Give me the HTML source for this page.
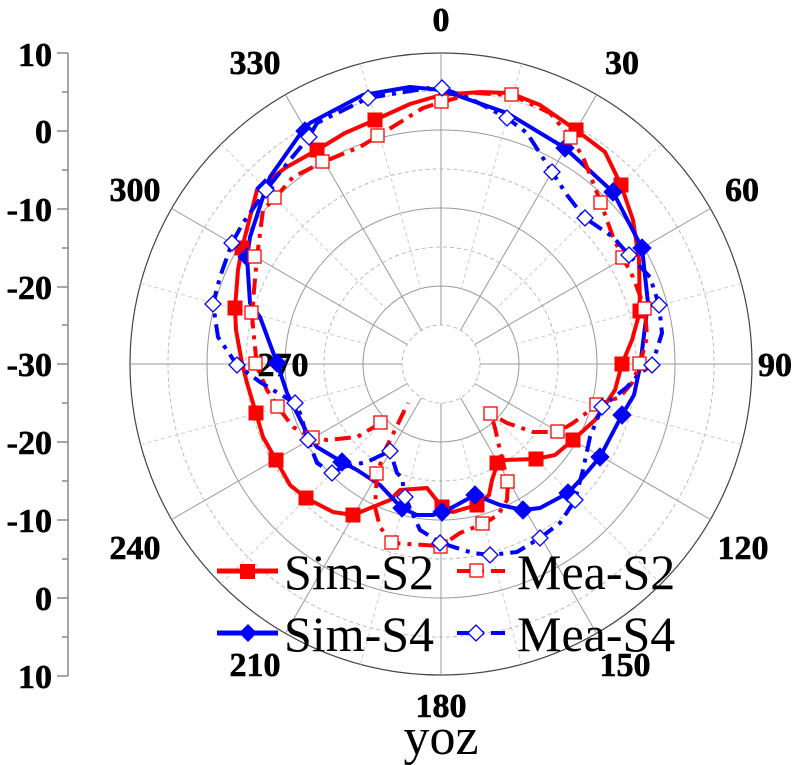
<!DOCTYPE html>
<html><head><meta charset="utf-8"><style>
html,body{margin:0;padding:0;background:#fff;}
svg{display:block;}
svg text{font-family:"Liberation Serif","Times New Roman",serif;}
text.n{font-size:34px;font-weight:bold;fill:#000;stroke:#000;stroke-width:0.6px;}
text.g{font-size:50px;fill:#000;}
</style></head><body>
<svg width="800" height="765" viewBox="0 0 800 765" xmlns="http://www.w3.org/2000/svg">
<g fill="none">
<g stroke="#999" stroke-width="1">
<circle cx="441" cy="364" r="78"/><circle cx="441" cy="364" r="156"/><circle cx="441" cy="364" r="234"/>
</g>
<g stroke="#bbb" stroke-width="1" stroke-dasharray="4,3">
<circle cx="441" cy="364" r="39"/><circle cx="441" cy="364" r="117"/><circle cx="441" cy="364" r="195"/><circle cx="441" cy="364" r="273"/>
</g>
<circle cx="441" cy="364" r="311" stroke="#444" stroke-width="1.2"/>
<g stroke="#999" stroke-width="1">
<line x1="441" y1="53" x2="441" y2="325"/><line x1="441" y1="403" x2="441" y2="675"/>
<line x1="130" y1="364" x2="402" y2="364"/><line x1="480" y1="364" x2="752" y2="364"/>
<line x1="596.5" y1="94.7" x2="460.5" y2="330.2"/><line x1="285.5" y1="633.3" x2="421.5" y2="397.8"/>
<line x1="710.3" y1="208.5" x2="474.8" y2="344.5"/><line x1="171.7" y1="519.5" x2="407.2" y2="383.5"/>
<line x1="710.3" y1="519.5" x2="474.8" y2="383.5"/><line x1="171.7" y1="208.5" x2="407.2" y2="344.5"/>
<line x1="596.5" y1="633.3" x2="460.5" y2="397.8"/><line x1="285.5" y1="94.7" x2="421.5" y2="330.2"/>
</g>
<g stroke="#ccc" stroke-width="1" stroke-dasharray="4,3">
<line x1="521.5" y1="63.6" x2="461.2" y2="288.7"/><line x1="360.5" y1="664.4" x2="420.8" y2="439.3"/>
<line x1="660.9" y1="144.1" x2="496.2" y2="308.8"/><line x1="221.1" y1="583.9" x2="385.8" y2="419.2"/>
<line x1="741.4" y1="283.5" x2="516.3" y2="343.8"/><line x1="140.6" y1="444.5" x2="365.7" y2="384.2"/>
<line x1="741.4" y1="444.5" x2="516.3" y2="384.2"/><line x1="140.6" y1="283.5" x2="365.7" y2="343.8"/>
<line x1="660.9" y1="583.9" x2="496.2" y2="419.2"/><line x1="221.1" y1="144.1" x2="385.8" y2="308.8"/>
<line x1="521.5" y1="664.4" x2="461.2" y2="439.3"/><line x1="360.5" y1="63.6" x2="420.8" y2="288.7"/>
</g>
<g stroke="#888" stroke-width="1.5">
<line x1="68" y1="53" x2="68" y2="676"/>
<line x1="57" y1="53" x2="68" y2="53"/><line x1="57" y1="131" x2="68" y2="131"/><line x1="57" y1="209" x2="68" y2="209"/><line x1="57" y1="287" x2="68" y2="287"/><line x1="57" y1="364" x2="68" y2="364"/><line x1="57" y1="442" x2="68" y2="442"/><line x1="57" y1="520" x2="68" y2="520"/><line x1="57" y1="598" x2="68" y2="598"/><line x1="57" y1="676" x2="68" y2="676"/>
<line x1="62" y1="92" x2="68" y2="92"/><line x1="62" y1="170" x2="68" y2="170"/><line x1="62" y1="248" x2="68" y2="248"/><line x1="62" y1="325" x2="68" y2="325"/><line x1="62" y1="403" x2="68" y2="403"/><line x1="62" y1="481" x2="68" y2="481"/><line x1="62" y1="559" x2="68" y2="559"/><line x1="62" y1="637" x2="68" y2="637"/>
</g>
</g>
<g text-anchor="end">
<text class="n" x="52" y="66">10</text><text class="n" x="52" y="143">0</text><text class="n" x="52" y="221">-10</text><text class="n" x="52" y="299">-20</text><text class="n" x="52" y="376">-30</text><text class="n" x="52" y="454">-20</text><text class="n" x="52" y="532">-10</text><text class="n" x="52" y="610">0</text><text class="n" x="52" y="688">10</text>
</g>
<g text-anchor="middle">
<text class="n" x="441" y="31">0</text><text class="n" x="622" y="74">30</text><text class="n" x="742" y="201">60</text><text class="n" x="775" y="376">90</text><text class="n" x="743" y="559">120</text><text class="n" x="625" y="676">150</text><text class="n" x="441" y="717">180</text><text class="n" x="255" y="676">210</text><text class="n" x="135" y="559">240</text><text class="n" x="283" y="376">270</text><text class="n" x="135" y="201">300</text><text class="n" x="255" y="74">330</text>
</g>
<text class="g" style="font-size:52px" x="441" y="754" text-anchor="middle">yoz</text>

<path fill="none" stroke="#f00" stroke-width="4" stroke-linejoin="round" d="M441,95 L480,92 L510,93 L540,105 L576,130 L605,152 L621,185 L633,220 L639,260 L640,311 L632,340 L622,364 L615,390 L595,420 L573,440 L555,455 L536,459 L505,460 L497,465 L492,480 L489,495 L477,505 L453,512 L442,507 L427,488 L400,490 L390,500 L353,515 L333,512 L306,498 L290,485 L276,460 L263,437 L256,413 L247,383 L242,363 L236,330 L235,308 L238,270 L242,248 L257,190 L285,168 L317,150 L345,133 L375,120 L410,104 L441,95"/>
<path fill="none" stroke="#00f" stroke-width="4" stroke-linejoin="round" d="M441,90 L450,93 L507,113 L565,148 L613,192 L642,248 L648,303 L640,367 L634,395 L622,415 L600,457 L583,477 L568,493 L540,508 L523,510 L500,505 L475,495 L453,507 L442,512 L433,515 L417,515 L402,508 L397,503 L380,485 L357,470 L342,462 L317,447 L307,433 L297,413 L287,393 L277,363 L260,317 L250,303 L247,257 L250,237 L262,200 L270,177 L303,130 L310,123 L363,95 L410,87 L441,90"/>
<path fill="none" stroke="#f00" stroke-width="4" stroke-dasharray="16,7,4,7" stroke-linejoin="round" d="M442,102 L475,93 L512,95 L550,113 L571,138 L583,157 L601,203 L613,237 L623,258 L633,277 L645,309 L647,337 L640,364 L632,383 L620,397 L597,405 L573,423 L558,432 L533,432 L507,423 L491,414 L495,428 L500,450 L508,482 L507,500 L498,515 L483,524 L460,533 L441,546 L392,543 L380,527 L375,507 L377,474 L385,450 L395,430 L408,403 M381,423 L357,437 L327,440 L313,438 L293,427 L278,407 L267,390 L257,367 L253,327 L252,313 L257,257 L263,210 L275,198 L293,177 L323,162 L360,147 L378,136 L423,108 L442,102"/>
<path fill="none" stroke="#00f" stroke-width="4" stroke-dasharray="16,7,4,7" stroke-linejoin="round" d="M442,88 L473,100 L507,118 L527,133 L552,172 L567,195 L585,218 L613,237 L629,255 L650,277 L659,305 L662,333 L652,365 L640,373 L627,387 L602,407 L590,437 L583,470 L575,500 L560,523 L540,538 L517,552 L490,555 L473,553 L441,543 L420,530 L405,497 L402,478 L397,473 L390,451 L367,462 L343,467 L332,473 L317,463 L308,440 L300,413 L295,403 L273,390 L260,382 L237,365 L218,337 L213,304 L220,277 L232,243 L243,223 L266,190 L290,160 L309,137 L317,123 L368,98 L435,87 L442,88"/>

<g fill="#f00" stroke="#f00" stroke-width="1">
<rect x="569" y="123" width="14" height="14"/><rect x="614" y="178" width="14" height="14"/><rect x="633" y="304" width="14" height="14"/><rect x="615" y="357" width="14" height="14"/><rect x="566" y="433" width="14" height="14"/><rect x="529" y="452" width="14" height="14"/><rect x="490" y="456" width="14" height="14"/><rect x="470" y="498" width="14" height="14"/><rect x="435" y="500" width="14" height="14"/><rect x="346" y="508" width="14" height="14"/><rect x="299" y="491" width="14" height="14"/><rect x="269" y="453" width="14" height="14"/><rect x="249" y="406" width="14" height="14"/><rect x="228" y="301" width="14" height="14"/><rect x="235" y="241" width="14" height="14"/><rect x="310" y="143" width="14" height="14"/><rect x="368" y="113" width="14" height="14"/>
</g>
<g fill="#00f" stroke="#00f" stroke-width="1">
<path d="M565,139 l9,9 l-9,9 l-9,-9z"/><path d="M613,183 l9,9 l-9,9 l-9,-9z"/><path d="M642,239 l9,9 l-9,9 l-9,-9z"/><path d="M622,406 l9,9 l-9,9 l-9,-9z"/><path d="M600,448 l9,9 l-9,9 l-9,-9z"/><path d="M568,484 l9,9 l-9,9 l-9,-9z"/><path d="M523,501 l9,9 l-9,9 l-9,-9z"/><path d="M475,486 l9,9 l-9,9 l-9,-9z"/><path d="M442,503 l9,9 l-9,9 l-9,-9z"/><path d="M402,499 l9,9 l-9,9 l-9,-9z"/><path d="M342,453 l9,9 l-9,9 l-9,-9z"/><path d="M277,354 l9,9 l-9,9 l-9,-9z"/><path d="M247,248 l9,9 l-9,9 l-9,-9z"/><path d="M265,179 l9,9 l-9,9 l-9,-9z"/><path d="M305,122 l9,9 l-9,9 l-9,-9z"/>
</g>
<g fill="#fff" stroke="#f00" stroke-width="1.3">
<rect x="435" y="95" width="13" height="13"/><rect x="505" y="88" width="13" height="13"/><rect x="564" y="131" width="13" height="13"/><rect x="594" y="196" width="13" height="13"/><rect x="616" y="251" width="13" height="13"/><rect x="638" y="302" width="13" height="13"/><rect x="633" y="357" width="13" height="13"/><rect x="590" y="398" width="13" height="13"/><rect x="551" y="425" width="13" height="13"/><rect x="484" y="407" width="13" height="13"/><rect x="501" y="475" width="13" height="13"/><rect x="476" y="517" width="13" height="13"/><rect x="434" y="540" width="13" height="13"/><rect x="385" y="536" width="13" height="13"/><rect x="370" y="467" width="13" height="13"/><rect x="374" y="416" width="13" height="13"/><rect x="306" y="431" width="13" height="13"/><rect x="271" y="400" width="13" height="13"/><rect x="249" y="357" width="13" height="13"/><rect x="245" y="306" width="13" height="13"/><rect x="248" y="250" width="13" height="13"/><rect x="268" y="191" width="13" height="13"/><rect x="316" y="155" width="13" height="13"/><rect x="371" y="129" width="13" height="13"/>
</g>
<g fill="#fff" stroke="#00f" stroke-width="1.3">
<path d="M442,80 l8,8 l-8,8 l-8,-8z"/><path d="M507,110 l8,8 l-8,8 l-8,-8z"/><path d="M552,164 l8,8 l-8,8 l-8,-8z"/><path d="M585,210 l8,8 l-8,8 l-8,-8z"/><path d="M629,247 l8,8 l-8,8 l-8,-8z"/><path d="M659,297 l8,8 l-8,8 l-8,-8z"/><path d="M652,357 l8,8 l-8,8 l-8,-8z"/><path d="M602,399 l8,8 l-8,8 l-8,-8z"/><path d="M575,492 l8,8 l-8,8 l-8,-8z"/><path d="M540,530 l8,8 l-8,8 l-8,-8z"/><path d="M490,547 l8,8 l-8,8 l-8,-8z"/><path d="M440,535 l8,8 l-8,8 l-8,-8z"/><path d="M405,489 l8,8 l-8,8 l-8,-8z"/><path d="M390,443 l8,8 l-8,8 l-8,-8z"/><path d="M332,465 l8,8 l-8,8 l-8,-8z"/><path d="M308,432 l8,8 l-8,8 l-8,-8z"/><path d="M295,395 l8,8 l-8,8 l-8,-8z"/><path d="M237,357 l8,8 l-8,8 l-8,-8z"/><path d="M213,296 l8,8 l-8,8 l-8,-8z"/><path d="M232,235 l8,8 l-8,8 l-8,-8z"/><path d="M266,182 l8,8 l-8,8 l-8,-8z"/><path d="M309,129 l8,8 l-8,8 l-8,-8z"/><path d="M368,90 l8,8 l-8,8 l-8,-8z"/>
</g>

<line x1="217" y1="571" x2="278" y2="571" stroke="#f00" stroke-width="5"/>
<rect x="240" y="564" width="15" height="15" fill="#f00"/>
<text class="g" x="284" y="589">Sim-S2</text>
<line x1="457" y1="571" x2="505" y2="571" stroke="#f00" stroke-width="4" stroke-dasharray="16,7,4,7"/>
<rect x="470" y="564" width="13" height="13" fill="#fff" stroke="#f00" stroke-width="1.3"/>
<text class="g" x="517" y="589">Mea-S2</text>
<line x1="217" y1="633" x2="278" y2="633" stroke="#00f" stroke-width="5"/>
<path d="M248,624 l9,9 l-9,9 l-9,-9z" fill="#00f"/>
<text class="g" x="284" y="651">Sim-S4</text>
<line x1="457" y1="633" x2="505" y2="633" stroke="#00f" stroke-width="4" stroke-dasharray="16,7,4,7"/>
<path d="M476,625 l8,8 l-8,8 l-8,-8z" fill="#fff" stroke="#00f" stroke-width="1.3"/>
<text class="g" x="517" y="651">Mea-S4</text>
</svg>
</body></html>
